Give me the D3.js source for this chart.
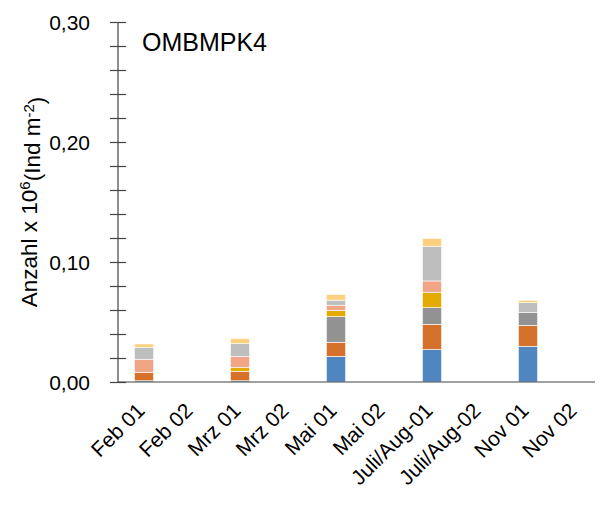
<!DOCTYPE html>
<html>
<head>
<meta charset="utf-8">
<script src="https://cdn.jsdelivr.net/npm/d3@7/dist/d3.min.js"></script>
<style>
  body { margin: 0; background: #fff; }
  svg text { font-family: "Liberation Sans", Arial, sans-serif; fill: #000; }
</style>
</head>
<body>
<div id="chart"></div>
<script>
// Categories on the x axis
var categories = ["Feb 01", "Feb 02", "Mrz 01", "Mrz 02", "Mai 01", "Mai 02",
  "Juli/Aug-01", "Juli/Aug-02", "Nov 01", "Nov 02"];

// Stacked series, bottom to top (values x 10^6 Ind m-2)
var series1 = [0.001, 0, 0.001, 0, 0.0214, 0, 0.027, 0, 0.0297, 0];
var series2 = [0.007, 0, 0.0078, 0, 0.0117, 0, 0.021, 0, 0.0175, 0];
var series3 = [0, 0, 0, 0, 0.0214, 0, 0.014, 0, 0.0106, 0];
var series4 = [0, 0, 0.0033, 0, 0.0053, 0, 0.0128, 0, 0, 0];
var series5 = [0.011, 0, 0.0092, 0, 0.0042, 0, 0.0094, 0, 0, 0];
var series6 = [0.0097, 0, 0.0106, 0, 0.0042, 0, 0.029, 0, 0.0083, 0];
var series7 = [0.003, 0, 0.0042, 0, 0.0047, 0, 0.0064, 0, 0.002, 0];

var seriesColors = ["#4f86c0", "#d6712c", "#929292", "#e3ab00", "#f1a587", "#bebebe", "#fdd07f"];

// Y ticks
var yMajorTicks = [0, 0.1, 0.2, 0.3];
var yAllTicks = [0, 0.02, 0.04, 0.06, 0.08, 0.1, 0.12, 0.14, 0.16, 0.18, 0.2, 0.22, 0.24, 0.26, 0.28, 0.3];

var allSeries = [series1, series2, series3, series4, series5, series6, series7];
var keys = allSeries.map((d, i) => "s" + i);
var table = categories.map(function (c, j) {
  var row = { cat: c };
  allSeries.forEach((s, i) => (row["s" + i] = s[j]));
  return row;
});

var width = 600, height = 506;
var margins = { top: 22, right: 2, bottom: 124, left: 118 };
var chartWidth = width - margins.left - margins.right;
var chartHeight = height - margins.top - margins.bottom;

var svg = d3.select("#chart").append("svg")
  .attr("width", width)
  .attr("height", height);

var chartElement = svg.append("g")
  .attr("transform", `translate(${margins.left},${margins.top})`);

var xScale = d3.scaleBand().domain(categories).range([2, chartWidth + 2]).paddingInner(0.6).paddingOuter(0.3);
var yScale = d3.scaleLinear().domain([0, 0.3]).range([chartHeight, 0]);

var stack = d3.stack().keys(keys)(table);

// Render bars.
chartElement.selectAll(".layer")
  .data(stack)
  .enter()
  .append("g")
  .attr("class", "layer")
  .style("fill", (d, i) => seriesColors[i])
  .selectAll("rect")
  .data((d) => d.filter((p) => p[1] - p[0] > 0))
  .enter()
  .append("rect")
  .attr("x", (d) => xScale(d.data.cat))
  .attr("y", (d) => yScale(d[1]))
  .attr("width", xScale.bandwidth())
  .attr("height", (d) => yScale(d[0]) - yScale(d[1]))
  .style("stroke", "#fff")
  .style("stroke-width", 0.6);

// Y axis with crossing ticks.
var yAxis = d3.axisLeft(yScale).tickValues(yAllTicks).tickSize(8).tickFormat("");
var yAxisG = chartElement.append("g").attr("class", "y axis").call(yAxis);
yAxisG.select(".domain").remove();
yAxisG.selectAll(".tick line").attr("x1", -8).attr("x2", 8).style("stroke", "#444").style("stroke-width", 1.2);
yAxisG.append("line")
  .attr("x1", 0).attr("x2", 0).attr("y1", 0).attr("y2", chartHeight)
  .style("stroke", "#444").style("stroke-width", 1.2);

chartElement.append("g")
  .selectAll("text")
  .data(yMajorTicks)
  .enter()
  .append("text")
  .attr("x", -28)
  .attr("y", (d) => yScale(d))
  .attr("dy", "0.36em")
  .style("text-anchor", "end")
  .style("font-size", "21px")
  .text((d) => d3.format(".2f")(d).replace(".", ","));

// X axis.
chartElement.append("line")
  .attr("x1", 0).attr("x2", chartWidth - 3)
  .attr("y1", chartHeight).attr("y2", chartHeight)
  .style("stroke", "#444").style("stroke-width", 1.2);

chartElement.append("g")
  .selectAll("text")
  .data(categories)
  .enter()
  .append("text")
  .attr("transform", (d) => `translate(${xScale(d) + xScale.bandwidth() / 2 + 2},${chartHeight + 30}) rotate(-45)`)
  .style("text-anchor", "end")
  .style("font-size", "21px")
  .text((d) => d);

// Title.
svg.append("text")
  .attr("x", 142)
  .attr("y", 51)
  .style("font-size", "25px")
  .text("OMBMPK4");

// Y axis label.
var yLabel = svg.append("text")
  .attr("transform", "translate(37,202) rotate(-90)")
  .style("text-anchor", "middle")
  .style("font-size", "22.5px");
yLabel.append("tspan").text("Anzahl x 10");
yLabel.append("tspan").attr("dy", "-0.45em").style("font-size", "15px").text("6");
yLabel.append("tspan").attr("dy", "0.45em").text("(Ind m");
yLabel.append("tspan").attr("dy", "-0.45em").style("font-size", "15px").text("-2");
yLabel.append("tspan").attr("dy", "0.45em").text(")");
</script>
</body>
</html>
